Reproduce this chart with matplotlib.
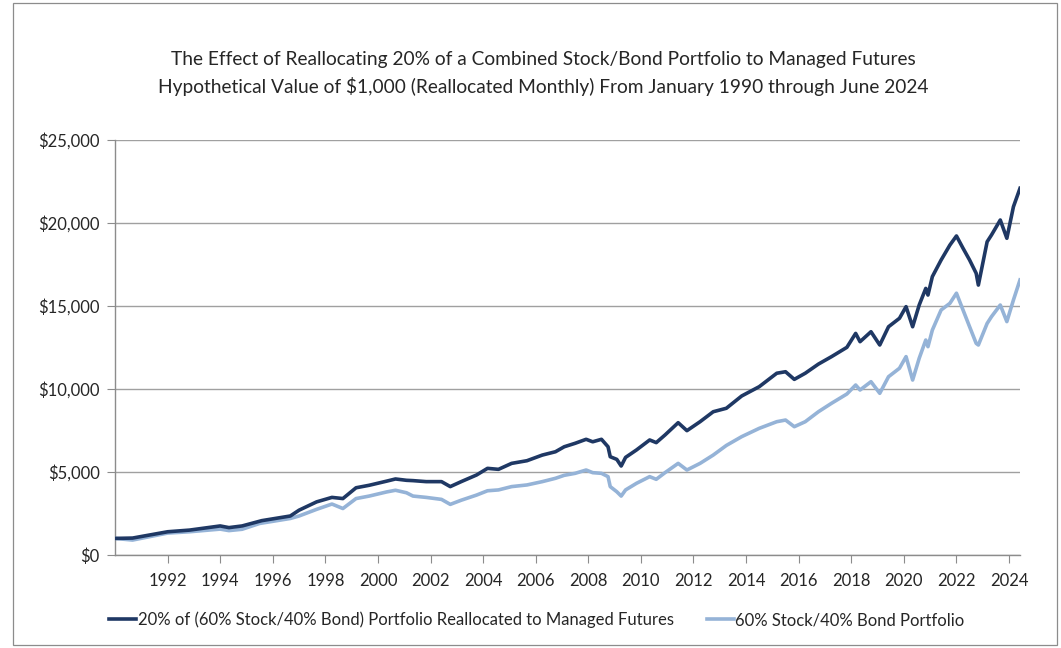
import matplotlib
matplotlib.use("Agg")
import matplotlib.pyplot as plt
from matplotlib.patches import Rectangle
from matplotlib.ticker import FuncFormatter

plt.rcParams['font.family'] = ['Lato', 'DejaVu Sans']

# --- data (month, value) ---
dark_dates = ["1990-01", "1990-09", "1992-01", "1992-11", "1994-01", "1994-05", "1994-11",
              "1995-08", "1996-09", "1997-01", "1997-09", "1998-04", "1998-09", "1999-03",
              "1999-09", "2000-05", "2000-09", "2001-02", "2001-05", "2001-11", "2002-06",
              "2002-10", "2003-03", "2003-10", "2004-03", "2004-08", "2005-02", "2005-09",
              "2006-04", "2006-10", "2007-02", "2007-07", "2007-12", "2008-03", "2008-07",
              "2008-10", "2008-11", "2009-02", "2009-04", "2009-06", "2009-11", "2010-05",
              "2010-08", "2010-12", "2011-06", "2011-10", "2012-04", "2012-10", "2013-04",
              "2013-11", "2014-07", "2015-03", "2015-07", "2015-11", "2016-04", "2016-10",
              "2017-04", "2017-11", "2018-03", "2018-05", "2018-10", "2019-02", "2019-06",
              "2019-11", "2020-02", "2020-05", "2020-08", "2020-11", "2020-12", "2021-02",
              "2021-06", "2021-10", "2022-01", "2022-04", "2022-07", "2022-10", "2022-11",
              "2023-03", "2023-05", "2023-09", "2023-12", "2024-03", "2024-06"]
dark_values = [1000, 1020, 1400, 1500, 1750, 1650, 1750,
               2070, 2350, 2700, 3200, 3470, 3400, 4050,
               4200, 4450, 4580, 4500, 4480, 4420, 4420,
               4120, 4420, 4820, 5220, 5160, 5520, 5680,
               6020, 6220, 6520, 6730, 6970, 6820, 6970,
               6520, 5920, 5760, 5360, 5880, 6330, 6930,
               6770, 7230, 7970, 7490, 8030, 8630, 8840,
               9580, 10140, 10950, 11040, 10580, 10950, 11500,
               11950, 12510, 13350, 12850, 13450, 12650, 13750,
               14260, 14960, 13750, 15060, 16060, 15660, 16770,
               17770, 18670, 19220, 18480, 17770, 16970, 16260,
               18870, 19280, 20180, 19080, 20980, 22090]

light_dates = ["1990-01", "1990-09", "1992-01", "1992-11", "1994-01", "1994-05", "1994-11",
               "1995-07", "1996-09", "1997-01", "1997-09", "1998-04", "1998-09", "1999-03",
               "1999-09", "2000-05", "2000-09", "2001-02", "2001-05", "2001-11", "2002-06",
               "2002-10", "2003-03", "2003-10", "2004-03", "2004-08", "2005-02", "2005-09",
               "2006-04", "2006-10", "2007-02", "2007-07", "2007-12", "2008-03", "2008-07",
               "2008-10", "2008-11", "2009-02", "2009-04", "2009-06", "2009-11", "2010-05",
               "2010-08", "2010-12", "2011-06", "2011-10", "2012-04", "2012-10", "2013-04",
               "2013-11", "2014-07", "2015-03", "2015-07", "2015-11", "2016-04", "2016-10",
               "2017-04", "2017-11", "2018-03", "2018-05", "2018-10", "2019-02", "2019-06",
               "2019-11", "2020-02", "2020-05", "2020-08", "2020-11", "2020-12", "2021-02",
               "2021-06", "2021-10", "2022-01", "2022-04", "2022-07", "2022-10", "2022-11",
               "2023-03", "2023-05", "2023-09", "2023-12", "2024-03", "2024-06"]
light_values = [1000, 900, 1320, 1400, 1560, 1470, 1550,
                1900, 2200, 2350, 2750, 3070, 2800, 3400,
                3550, 3800, 3900, 3750, 3550, 3470, 3350,
                3050, 3300, 3610, 3870, 3920, 4120, 4220,
                4420, 4620, 4800, 4920, 5120, 4960, 4920,
                4720, 4120, 3810, 3550, 3920, 4320, 4720,
                4560, 4960, 5520, 5120, 5520, 6020, 6600,
                7130, 7630, 8030, 8130, 7730, 8030, 8630,
                9140, 9700, 10240, 9940, 10440, 9740, 10740,
                11250, 11950, 10540, 11850, 12950, 12550, 13550,
                14760, 15160, 15770, 14760, 13750, 12750, 12650,
                13950, 14360, 15060, 14060, 15360, 16570]

tick_years = list(range(1992, 2025, 2))
dark_label = "20% of (60% Stock/40% Bond) Portfolio Reallocated to Managed Futures"
light_label = "60% Stock/40% Bond Portfolio"
title_lines = ["The Effect of Reallocating 20% of a Combined Stock/Bond Portfolio to Managed Futures",
               "Hypothetical Value of $1,000 (Reallocated Monthly) From January 1990 through June 2024"]


def to_num(s):
    y, m = s.split("-")
    return int(y) + (int(m) - 1) / 12.0


dx = [to_num(s) for s in dark_dates]
lx = [to_num(s) for s in light_dates]

W, H = 1061, 648
fig = plt.figure(figsize=(W / 100, H / 100), dpi=100)
fig.patch.set_facecolor("white")
fig.add_artist(Rectangle((13 / W, 3 / H), (1057 - 13) / W, (645 - 3) / H,
                         transform=fig.transFigure, fill=False,
                         edgecolor="#8c8c8c", linewidth=0.9))

ax = fig.add_axes([115 / W, 1 - 555 / H, (1020 - 115) / W, (555 - 140) / H])
l_dark, = ax.plot(dx, dark_values, color="#1F3864", linewidth=2.6, label=dark_label, zorder=4)
l_light, = ax.plot(lx, light_values, color="#95B3D7", linewidth=2.6, label=light_label, zorder=3)

ax.set_xlim(1990.0, 2024 + 5 / 12)
ax.set_ylim(0, 25000)
ax.set_yticks(range(0, 25001, 5000))
ax.yaxis.set_major_formatter(FuncFormatter(lambda v, p: f"${int(v):,}"))
ax.set_xticks(tick_years)
ax.set_xticklabels([str(y) for y in tick_years])
ax.grid(axis="y", color="#a0a0a0", linewidth=1.0)
ax.set_axisbelow(True)
for s in ["top", "right"]:
    ax.spines[s].set_visible(False)
for s in ["left", "bottom"]:
    ax.spines[s].set_color("#8c8c8c")
    ax.spines[s].set_linewidth(1.0)
ax.tick_params(axis="y", length=6, color="#8c8c8c", labelsize=12, labelcolor="#262626", pad=5)
ax.tick_params(axis="x", length=6, color="#8c8c8c", labelsize=12, labelcolor="#262626", pad=7)

fig.text(543 / W, 1 - 60 / H, title_lines[0], ha="center", va="center", fontsize=13.8, color="#262626")
fig.text(543 / W, 1 - 86 / H, title_lines[1], ha="center", va="center", fontsize=13.8, color="#262626")

leg = fig.legend(handles=[l_dark, l_light], loc="center", bbox_to_anchor=(537 / W, 1 - 620 / H),
                 ncol=2, frameon=False, fontsize=12, handlelength=1.6, handletextpad=0.1,
                 columnspacing=2.0, labelcolor="#262626")
fig.savefig("out.png", dpi=100)
